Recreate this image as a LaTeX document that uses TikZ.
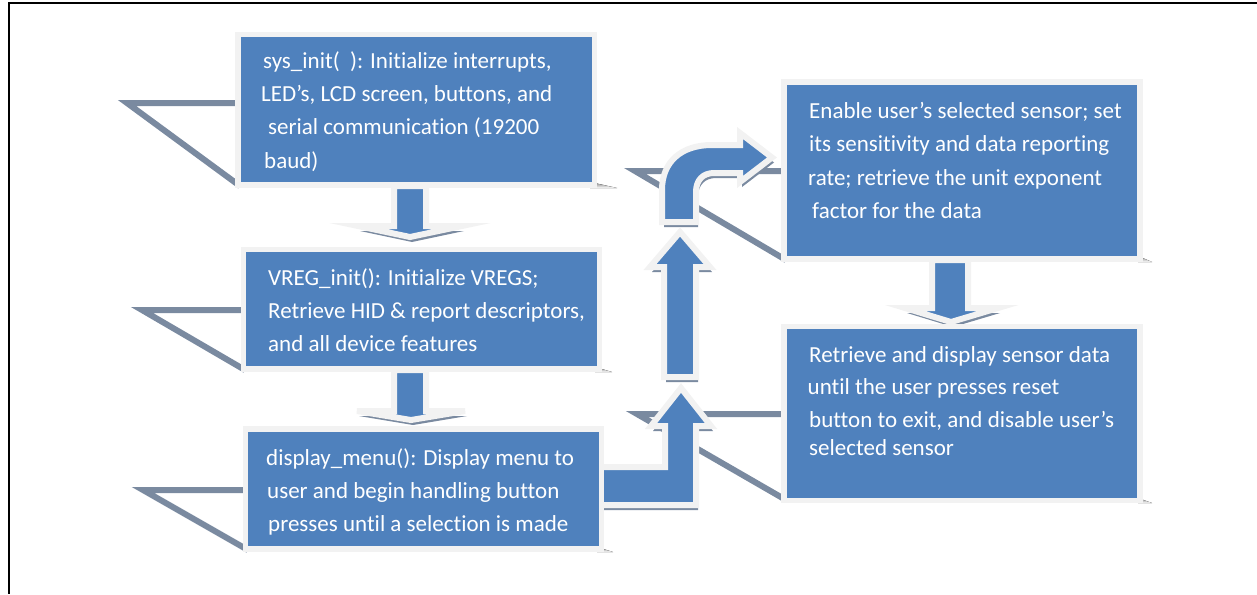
\documentclass[tikz,border=0pt]{standalone}
\usepackage{fontspec}
\setmainfont{Carlito}[RawFeature={-liga;-clig;-dlig}]
\definecolor{boxblue}{HTML}{4F81BD}
\definecolor{rim}{HTML}{F2F2F2}
\definecolor{shade}{HTML}{7A8AA0}
\begin{document}
\begin{tikzpicture}[x=1pt,y=-1pt,
  box/.style={rectangle, fill=boxblue, draw=rim, line width=5.5pt, inner sep=0pt, outer sep=0pt},
  txt/.style={anchor=base west, inner sep=0pt, text=white, font=\fontsize{23}{33}\selectfont},
  shadowline/.style={draw=shade, line width=6pt, line join=miter},
  blockarrow/.style={fill=boxblue, draw=rim, line width=6pt, line join=miter},
  arrowshade/.style={fill=shade}]
\useasboundingbox (0,0) rectangle (1257,594);
% frame
\draw[line width=2pt] (1257,3) -- (9,3) -- (9,594);
% perspective shadows of the boxes
\draw[shadowline] (240,103) -- (127,103) -- (240,186);
\draw[shadowline] (245,310) -- (142,310) -- (245,370);
\draw[shadowline] (248,490) -- (143,490) -- (248,550);
\draw[shadowline] (786,171) -- (635,171) -- (786,260);
\draw[shadowline] (786,414) -- (637,414) -- (786,500);
\fill[shade] (590,182) -- (617,188) -- (590,188) -- cycle;
\fill[shade] (595,367) -- (612,372) -- (595,372) -- cycle;
\fill[shade] (597,547) -- (613,552) -- (597,552) -- cycle;
\fill[shade] (1138,256) -- (1152,262) -- (1138,262) -- cycle;
\fill[shade] (1138,498) -- (1152,503) -- (1138,503) -- cycle;
% arrow shadows
\begin{scope}[shift={(2,5)}]
\fill[arrowshade] (394,186) -- (394,226) -- (358,226) -- (410,237) -- (462,226) -- (426,226) -- (426,186) -- cycle;
\fill[arrowshade] (394,370) -- (394,411) -- (357,411) -- (411,420) -- (465,411) -- (426,411) -- (426,370) -- cycle;
\fill[arrowshade] (932,260) -- (932,308) -- (905,308) -- (951,322) -- (998,308) -- (968,308) -- (968,260) -- cycle;
\fill[arrowshade] (600,505) -- (696,505) -- (696,426) -- (711,426) -- (681,388) -- (651,426) -- (665,426) -- (665,467) -- (600,467) -- cycle;
\fill[arrowshade] (664,377) -- (664,267) -- (650,267) -- (680,232) -- (710,267) -- (696,267) -- (696,377) -- cycle;
\fill[arrowshade] (662,222) -- (662,190) .. controls (662,162) and (681,145) .. (712,145) -- (740,145) -- (740,133) -- (772,157.5) -- (740,182) -- (740,173) -- (714,173) .. controls (703,173) and (696,180) .. (696,192) -- (696,222) -- cycle;
\end{scope}
% block arrows
\draw[blockarrow] (394,186) -- (394,226) -- (358,226) -- (410,237) -- (462,226) -- (426,226) -- (426,186) -- cycle;
\draw[blockarrow] (394,370) -- (394,411) -- (357,411) -- (411,420) -- (465,411) -- (426,411) -- (426,370) -- cycle;
\draw[blockarrow] (932,260) -- (932,308) -- (905,308) -- (951,322) -- (998,308) -- (968,308) -- (968,260) -- cycle;
\draw[blockarrow] (600,505) -- (696,505) -- (696,426) -- (711,426) -- (681,388) -- (651,426) -- (665,426) -- (665,467) -- (600,467) -- cycle;
\draw[blockarrow] (664,377) -- (664,267) -- (650,267) -- (680,232) -- (710,267) -- (696,267) -- (696,377) -- cycle;
\draw[blockarrow] (662,222) -- (662,190) .. controls (662,162) and (681,145) .. (712,145) -- (740,145) -- (740,133) -- (772,157.5) -- (740,182) -- (740,173) -- (714,173) .. controls (703,173) and (696,180) .. (696,192) -- (696,222) -- cycle;
% boxes
\node[box, minimum width=356.5pt, minimum height=150.5pt] (b1) at (416.25,109.75) {};
\node[box, minimum width=356pt, minimum height=119.5pt] (b2) at (421.5,309.25) {};
\node[box, minimum width=356pt, minimum height=120pt] (b3) at (423.5,489) {};
\node[box, minimum width=356pt, minimum height=177pt] (b4) at (962,170.5) {};
\node[box, minimum width=356pt, minimum height=174pt] (b5) at (962,413.5) {};
% texts
\node[txt] (t1a) at (263,68) {sys\_init(\ \ ): Initialize interrupts,};
\node[txt] (t1b) at (261,101.3) {LED’s, LCD screen, buttons, and};
\node[txt] (t1c) at (268,134.6) {serial communication (19200};
\node[txt] (t1d) at (264,168) {baud)};
\node[txt] (t2a) at (268,285) {VREG\_init(): Initialize VREGS;};
\node[txt] (t2b) at (268,318.3) {Retrieve HID \& report descriptors,};
\node[txt] (t2c) at (268,351.6) {and all device features};
\node[txt] (t3a) at (266,465) {display\_menu(): Display menu to};
\node[txt] (t3b) at (267,498.3) {user and begin handling button};
\node[txt] (t3c) at (268,531.6) {presses until a selection is made};
\node[txt] (t4a) at (809,118) {Enable user’s selected sensor; set};
\node[txt] (t4b) at (809,151.5) {its sensitivity and data reporting};
\node[txt] (t4c) at (808,185) {rate; retrieve the unit exponent};
\node[txt] (t4d) at (812,218.5) {factor for the data};
\node[txt] (t5a) at (809,362) {Retrieve and display sensor data};
\node[txt] (t5b) at (807.5,394.5) {until the user presses reset};
\node[txt] (t5c) at (809,427) {button to exit, and disable user’s};
\node[txt] (t5d) at (809,455) {selected sensor};
\end{tikzpicture}
\end{document}
